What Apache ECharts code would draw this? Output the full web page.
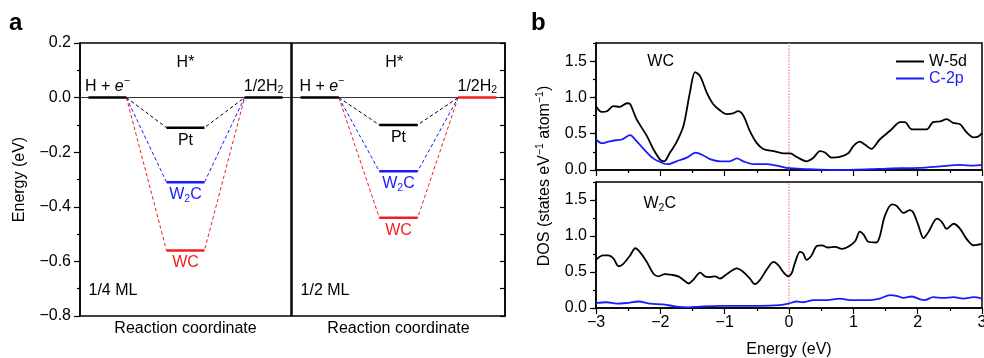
<!DOCTYPE html>
<html><head><meta charset="utf-8">
<script src="https://cdn.jsdelivr.net/npm/echarts@6/dist/echarts.min.js"></script>
<style>html,body{margin:0;padding:0;background:#fff}#c{width:984px;height:358px}</style>
</head><body><div id="c"></div>
<script>
// ---------- DATA ----------
const catalysts = ['Pt', 'W2C', 'WC'];
const catalystLabels = ['Pt', 'W{sub|2}C', 'WC'];
const dG_quarterML = [-0.11, -0.31, -0.56];   // eV, 1/4 ML coverage
const dG_halfML = [-0.10, -0.27, -0.44];      // eV, 1/2 ML coverage
const coverageLabels = ['1/4 ML', '1/2 ML'];
const energyTicksA = [-0.8, -0.6, -0.4, -0.2, 0.0, 0.2];
const energyTicksB = [-3, -2, -1, 0, 1, 2, 3];
const dosTicks = [0, 0.5, 1.0, 1.5];
const dosRange = [0, 1.75];
const fermiLevel = 0;
const orbitalNames = ['W-5d', 'C-2p'];

const wc_w5d = [[-3,0.88],[-2.91,0.80],[-2.83,0.81],[-2.73,0.88],[-2.63,0.87],[-2.52,0.92],[-2.47,0.91],[-2.37,0.70],[-2.21,0.47],[-2.11,0.29],[-2.0,0.14],[-1.94,0.12],[-1.85,0.24],[-1.75,0.38],[-1.64,0.61],[-1.54,1.07],[-1.46,1.35],[-1.38,1.29],[-1.28,1.07],[-1.18,0.91],[-1.07,0.82],[-0.97,0.77],[-0.87,0.78],[-0.79,0.81],[-0.71,0.75],[-0.61,0.54],[-0.50,0.37],[-0.40,0.29],[-0.24,0.26],[-0.09,0.23],[0.02,0.23],[0.12,0.18],[0.27,0.12],[0.38,0.17],[0.48,0.26],[0.56,0.24],[0.66,0.17],[0.79,0.18],[0.92,0.23],[1.0,0.33],[1.10,0.39],[1.18,0.35],[1.28,0.29],[1.41,0.42],[1.57,0.54],[1.73,0.66],[1.80,0.66],[1.91,0.56],[2.04,0.56],[2.14,0.56],[2.24,0.66],[2.35,0.67],[2.45,0.70],[2.55,0.65],[2.66,0.63],[2.76,0.52],[2.87,0.45],[2.94,0.46],[3.0,0.51]];
const wc_c2p = [[-3,0.42],[-2.91,0.37],[-2.81,0.39],[-2.70,0.41],[-2.60,0.42],[-2.47,0.48],[-2.39,0.42],[-2.26,0.29],[-2.11,0.16],[-1.95,0.09],[-1.88,0.08],[-1.75,0.12],[-1.59,0.17],[-1.45,0.24],[-1.33,0.20],[-1.23,0.15],[-1.07,0.12],[-0.92,0.12],[-0.81,0.16],[-0.71,0.12],[-0.55,0.08],[-0.35,0.08],[-0.19,0.06],[-0.04,0.03],[0.12,0.02],[0.33,0.01],[0.74,0.0],[1.26,0.01],[1.52,0.02],[2.04,0.03],[2.35,0.05],[2.66,0.07],[2.87,0.06],[3.0,0.07]];
const w2c_w5d = [[-3,0.67],[-2.89,0.73],[-2.81,0.73],[-2.73,0.69],[-2.65,0.58],[-2.58,0.61],[-2.47,0.73],[-2.39,0.83],[-2.32,0.78],[-2.21,0.64],[-2.11,0.48],[-2.03,0.44],[-1.93,0.47],[-1.82,0.46],[-1.72,0.44],[-1.64,0.39],[-1.56,0.34],[-1.49,0.39],[-1.38,0.49],[-1.31,0.44],[-1.23,0.43],[-1.15,0.44],[-1.07,0.41],[-0.97,0.47],[-0.81,0.55],[-0.71,0.50],[-0.61,0.41],[-0.53,0.33],[-0.45,0.39],[-0.35,0.53],[-0.24,0.64],[-0.17,0.60],[-0.09,0.50],[-0.01,0.44],[0.04,0.48],[0.09,0.62],[0.17,0.78],[0.22,0.76],[0.27,0.67],[0.35,0.73],[0.43,0.86],[0.51,0.87],[0.61,0.84],[0.72,0.85],[0.82,0.82],[0.92,0.85],[1.03,0.93],[1.10,1.06],[1.16,1.02],[1.23,0.92],[1.36,0.91],[1.41,0.99],[1.49,1.28],[1.60,1.44],[1.67,1.42],[1.78,1.32],[1.88,1.36],[1.93,1.33],[2.01,1.15],[2.09,0.97],[2.17,1.06],[2.30,1.24],[2.38,1.19],[2.45,1.10],[2.56,1.17],[2.66,1.10],[2.76,0.96],[2.87,0.87],[3.0,0.89]];
const w2c_c2p = [[-3,0.07],[-2.83,0.08],[-2.68,0.06],[-2.52,0.07],[-2.34,0.09],[-2.16,0.06],[-1.95,0.05],[-1.75,0.02],[-1.56,0.01],[-1.38,0.02],[-1.07,0.03],[-0.76,0.03],[-0.45,0.03],[-0.14,0.04],[-0.01,0.06],[0.12,0.09],[0.22,0.08],[0.38,0.11],[0.59,0.11],[0.79,0.13],[0.95,0.11],[1.10,0.11],[1.26,0.11],[1.41,0.13],[1.57,0.18],[1.67,0.17],[1.78,0.14],[1.91,0.16],[2.04,0.12],[2.11,0.11],[2.24,0.15],[2.40,0.14],[2.56,0.15],[2.71,0.13],[2.87,0.15],[3.0,0.13]];

// ---------- STYLE / LAYOUT ----------
const FONT = 'Liberation Sans, Arial, Helvetica, sans-serif';
const FS = 16;
const colors = ['#000000', '#1a1aff', '#f01e23'];
const X_START = [0.4, 2.2], X_MID = [4.1, 5.9], X_END = [7.8, 9.6];
const minus = s => String(s).replace('-', '\u2212');
const richSub = { sub: { fontSize: 10.5, lineHeight: 10, verticalAlign: 'bottom' },
                  sup: { fontSize: 10.5, lineHeight: 10, verticalAlign: 'top' },
                  i: { fontStyle: 'italic', fontSize: FS } };

const chart = echarts.init(document.getElementById('c'), null, { renderer: 'canvas' });

function txt(gi, yi, x, y, fmt, pos, dist, color) {
  return {
    type: 'scatter', xAxisIndex: gi, yAxisIndex: yi, symbolSize: 1, silent: true,
    itemStyle: { color: '#ffffff', opacity: 0 }, z: 5,
    data: [[x, y]],
    label: { show: true, formatter: fmt, position: pos, distance: dist, color: color || '#000000', opacity: 1,
             textBorderWidth: 0, fontSize: FS, fontFamily: FONT, lineHeight: 20, rich: richSub },
    emphasis: { disabled: true }
  };
}

function panelA(gi, yi, vals, cov, endColors, xH, xH2, xHs) {
  const s = [];
  vals.forEach((v, i) => s.push({
    type: 'line', xAxisIndex: gi, yAxisIndex: yi, symbol: 'none', z: 2, silent: true,
    data: [[X_START[1], 0], [X_MID[0], v], [X_MID[1], v], [X_END[0], 0]],
    lineStyle: { color: colors[i], width: 1, type: [3.5, 2.5] }
  }));
  vals.forEach((v, i) => s.push({
    type: 'line', xAxisIndex: gi, yAxisIndex: yi, symbol: 'none', z: 3, silent: true,
    data: [[X_MID[0], v], [X_MID[1], v]],
    lineStyle: { color: colors[i], width: 2.5 }
  }));
  s.push({
    type: 'line', xAxisIndex: gi, yAxisIndex: yi, symbol: 'none', z: 3, silent: true,
    data: [[X_START[0], 0], [X_START[1], 0]], lineStyle: { color: endColors[0], width: 2.5 },
    markLine: { silent: true, symbol: ['none', 'none'], label: { show: false }, z: 1,
                lineStyle: { color: '#000', width: 0.8, type: 'solid' }, data: [{ yAxis: 0 }] }
  });
  s.push({
    type: 'line', xAxisIndex: gi, yAxisIndex: yi, symbol: 'none', z: 3, silent: true,
    data: [[X_END[0], 0], [X_END[1], 0]], lineStyle: { color: endColors[1], width: 2.5 }
  });
  vals.forEach((v, i) => s.push(txt(gi, yi, (X_MID[0] + X_MID[1]) / 2, v, catalystLabels[i], 'bottom', 2, colors[i])));
  s.push(txt(gi, yi, xH, 0, 'H + {i|e}{sup|\u2212}', 'top', 1));
  s.push(txt(gi, yi, xH2, 0, '1/2H{sub|2}', 'top', 1));
  s.push(txt(gi, yi, xHs, 0.13, 'H*', 'inside', 0));
  s.push(txt(gi, yi, 0.38, -0.707, cov, 'right', 0));
  return s;
}

function dosSeries(gi, yi, w5d, c2p, label, labelX, labelY) {
  return [
    { type: 'line', xAxisIndex: gi, yAxisIndex: yi, symbol: 'none', silent: true, z: 1,
      data: [[fermiLevel, dosRange[0]], [fermiLevel, dosRange[1]]],
      lineStyle: { color: '#ff6060', width: 1, type: [1.5, 1.5] } },
    { name: orbitalNames[0], type: 'line', xAxisIndex: gi, yAxisIndex: yi, symbol: 'none', showSymbol: false, smooth: 0.3,
      data: w5d, lineStyle: { color: '#000', width: 1.8 }, itemStyle: { color: '#000' }, z: 3 },
    { name: orbitalNames[1], type: 'line', xAxisIndex: gi, yAxisIndex: yi, symbol: 'none', showSymbol: false, smooth: 0.3,
      data: c2p, lineStyle: { color: '#1a1aff', width: 1.8 }, itemStyle: { color: '#1a1aff' }, z: 3 },
    txt(gi, yi, labelX, labelY, label, 'right', 0)
  ];
}

const axisBlack = { lineStyle: { color: '#000', width: 1.5 }, onZero: false };
const lbl = { color: '#000', fontSize: 16, fontFamily: FONT };
const gridBase = { show: true, borderColor: '#000', borderWidth: 1.5, containLabel: false, outerBoundsMode: 'none' };

const option = {
  animation: false,
  backgroundColor: '#fff',
  textStyle: { fontFamily: FONT },
  grid: [
    Object.assign({ left: 80, top: 43, width: 211, height: 273 }, gridBase),
    Object.assign({ left: 292, top: 43, width: 213, height: 273 }, gridBase),
    Object.assign({ left: 596, top: 43, width: 386, height: 127 }, gridBase),
    Object.assign({ left: 596, top: 182, width: 386, height: 126 }, gridBase)
  ],
  xAxis: [
    { gridIndex: 0, type: 'value', min: 0, max: 10, axisLine: { show: false, onZero: false }, axisTick: { show: false },
      axisLabel: { show: false }, splitLine: { show: false },
      name: 'Reaction coordinate', nameLocation: 'middle', nameGap: 5, nameTextStyle: { color: '#000', fontSize: 16, fontFamily: FONT } },
    { gridIndex: 1, type: 'value', min: 0, max: 10, axisLine: { show: false, onZero: false }, axisTick: { show: false },
      axisLabel: { show: false }, splitLine: { show: false },
      name: 'Reaction coordinate', nameLocation: 'middle', nameGap: 5, nameTextStyle: { color: '#000', fontSize: 16, fontFamily: FONT } },
    { gridIndex: 2, type: 'value', min: energyTicksB[0], max: energyTicksB[energyTicksB.length - 1], interval: 1,
      axisLine: axisBlack, axisTick: { show: true, length: 6, lineStyle: { color: '#000', width: 1.2 } },
      minorTick: { show: true, splitNumber: 2, length: 3, lineStyle: { color: '#000', width: 1.2 } },
      axisLabel: { show: false }, splitLine: { show: false } },
    { gridIndex: 3, type: 'value', min: energyTicksB[0], max: energyTicksB[energyTicksB.length - 1], interval: 1,
      axisLine: axisBlack, axisTick: { show: true, length: 6, lineStyle: { color: '#000', width: 1.2 } },
      minorTick: { show: true, splitNumber: 2, length: 3, lineStyle: { color: '#000', width: 1.2 } },
      axisLabel: Object.assign({ margin: 7, formatter: v => minus(v) }, lbl), splitLine: { show: false },
      name: 'Energy (eV)', nameLocation: 'middle', nameGap: 34, nameTextStyle: { color: '#000', fontSize: 16, fontFamily: FONT } }
  ],
  yAxis: [
    { gridIndex: 0, type: 'value', position: 'left', min: energyTicksA[0], max: energyTicksA[energyTicksA.length - 1], interval: 0.2,
      axisLine: axisBlack, axisTick: { show: true, length: 6, lineStyle: { color: '#000', width: 1.2 } },
      minorTick: { show: true, splitNumber: 2, length: 3, lineStyle: { color: '#000', width: 1.2 } },
      axisLabel: Object.assign({ margin: 9, formatter: v => minus(v.toFixed(1)) }, lbl), splitLine: { show: false },
      name: 'Energy (eV)', nameLocation: 'middle', nameRotate: 90, nameGap: 52,
      nameTextStyle: { color: '#000', fontSize: 16, fontFamily: FONT } },
    { gridIndex: 1, type: 'value', position: 'left', min: -0.8, max: 0.2, interval: 0.2,
      axisLine: { show: false, onZero: false }, axisTick: { show: false }, axisLabel: { show: false }, splitLine: { show: false } },
    { gridIndex: 1, type: 'value', position: 'right', min: -0.8, max: 0.2, interval: 0.1,
      axisLine: axisBlack, axisTick: { show: true, inside: true, length: 5, lineStyle: { color: '#000', width: 1.2 } },
      axisLabel: { show: false }, splitLine: { show: false } },
    { gridIndex: 2, type: 'value', position: 'left', min: dosRange[0], max: dosRange[1], interval: 0.25,
      axisLine: axisBlack, axisTick: { show: true, length: 3, lineStyle: { color: '#000', width: 1.2 } },
      axisLabel: Object.assign({ margin: 9, formatter: v => (dosTicks.some(t => Math.abs(t - v) < 1e-6) ? v.toFixed(1) : '') }, lbl),
      splitLine: { show: false } },
    { gridIndex: 2, type: 'value', position: 'left', min: dosRange[0], max: dosRange[1],
      axisLine: { show: false, onZero: false }, axisTick: { show: true, length: 6, customValues: dosTicks, lineStyle: { color: '#000', width: 1.2 } },
      axisLabel: { show: false }, splitLine: { show: false } },
    { gridIndex: 3, type: 'value', position: 'left', min: dosRange[0], max: dosRange[1], interval: 0.25,
      axisLine: axisBlack, axisTick: { show: true, length: 3, lineStyle: { color: '#000', width: 1.2 } },
      axisLabel: Object.assign({ margin: 9, formatter: v => (dosTicks.some(t => Math.abs(t - v) < 1e-6) ? v.toFixed(1) : '') }, lbl),
      splitLine: { show: false } },
    { gridIndex: 3, type: 'value', position: 'left', min: dosRange[0], max: dosRange[1],
      axisLine: { show: false, onZero: false }, axisTick: { show: true, length: 6, customValues: dosTicks, lineStyle: { color: '#000', width: 1.2 } },
      axisLabel: { show: false }, splitLine: { show: false } }
  ],
  legend: {
    left: 891, top: 48, orient: 'vertical', itemWidth: 28, itemHeight: 2, itemGap: 0, icon: 'rect',
    textStyle: { fontSize: FS, fontFamily: FONT, lineHeight: 17 },
    data: [{ name: orbitalNames[0], icon: 'rect', itemStyle: { color: '#000' }, textStyle: { color: '#000' } },
           { name: orbitalNames[1], icon: 'rect', itemStyle: { color: '#1a1aff' }, textStyle: { color: '#1a1aff' } }]
  },
  graphic: [
    { type: 'text', x: 9, y: 23, style: { text: 'a', font: 'bold 24px ' + FONT, fill: '#000', verticalAlign: 'middle' } },
    { type: 'text', x: 531, y: 23, style: { text: 'b', font: 'bold 24px ' + FONT, fill: '#000', verticalAlign: 'middle' } },
    { type: 'text', x: 545, y: 176, rotation: Math.PI / 2,
      style: { text: 'DOS (states eV{sup|\u22121} atom{sup|\u22121})', font: '16px ' + FONT, fill: '#000',
               align: 'center', verticalAlign: 'middle', lineHeight: 20,
               rich: { sup: { fontSize: 10.5, lineHeight: 10, verticalAlign: 'top', fill: '#000' } } } }
  ],
  series: [].concat(
    panelA(0, 0, dG_quarterML, coverageLabels[0], ['#000000', '#000000'], 1.3, 8.7, 5.0),
    panelA(1, 1, dG_halfML, coverageLabels[1], ['#000000', colors[2]], 1.4, 8.7, 4.8),
    dosSeries(2, 3, wc_w5d, wc_c2p, 'WC', -2.21, 1.49),
    dosSeries(3, 5, w2c_w5d, w2c_c2p, 'W{sub|2}C', -2.27, 1.45)
  )
};
chart.setOption(option);
</script></body></html>
